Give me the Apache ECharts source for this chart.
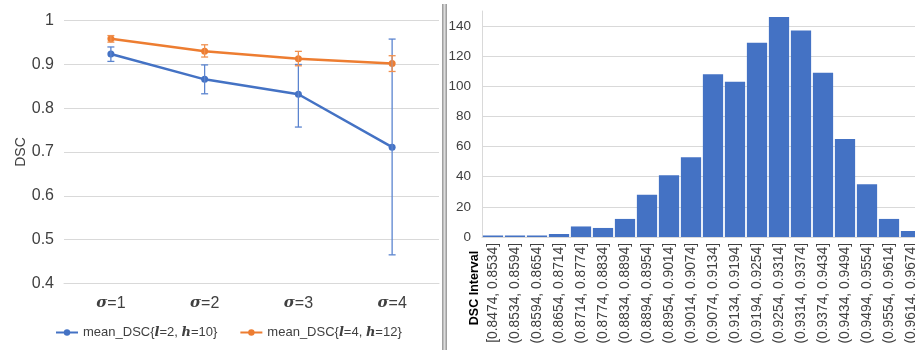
<!DOCTYPE html>
<html><head><meta charset="utf-8">
<script src="https://cdn.jsdelivr.net/npm/echarts@6/dist/echarts.min.js"></script>
<style>html,body{margin:0;padding:0;background:#fff;overflow:hidden;width:915px;height:350px}#c{width:922px;height:350px}</style>
</head><body><div id="c"></div>
<script>
// Left chart data
const sigmaCats = ['1', '2', '3', '4'];
const meanA = [0.924, 0.866, 0.832, 0.711];      // l=2, h=10
const errLowA = [0.907, 0.833, 0.757, 0.465];
const errHighA = [0.940, 0.899, 0.900, 0.958];
const meanB = [0.959, 0.930, 0.913, 0.902];      // l=4, h=12
const errLowB = [0.951, 0.917, 0.897, 0.884];
const errHighB = [0.966, 0.945, 0.930, 0.920];
const leftTicks = [0.4, 0.5, 0.6, 0.7, 0.8, 0.9, 1];

// Right chart data
const intervals = ['[0.8474, 0.8534]', '(0.8534, 0.8594]', '(0.8594, 0.8654]', '(0.8654, 0.8714]',
  '(0.8714, 0.8774]', '(0.8774, 0.8834]', '(0.8834, 0.8894]', '(0.8894, 0.8954]', '(0.8954, 0.9014]',
  '(0.9014, 0.9074]', '(0.9074, 0.9134]', '(0.9134, 0.9194]', '(0.9194, 0.9254]', '(0.9254, 0.9314]',
  '(0.9314, 0.9374]', '(0.9374, 0.9434]', '(0.9434, 0.9494]', '(0.9494, 0.9554]', '(0.9554, 0.9614]',
  '(0.9614, 0.9674]'];
const counts = [1, 1, 1, 2, 7, 6, 12, 28, 41, 53, 108, 103, 129, 146, 137, 109, 65, 35, 12, 4];

const BLUE = '#4472C4', ORANGE = '#ED7D31', GRID = '#d9d9d9', TXT = '#404040';
const FONT = 'Liberation Sans';
const MATH = 'DejaVu Serif';

function errData(lo, hi) { return lo.map((v, i) => [i, v, hi[i]]); }
function errRender(color) {
  return function (params, api) {
    const x = api.value(0);
    const p1 = api.coord([x, api.value(1)]);
    const p2 = api.coord([x, api.value(2)]);
    const w = 3.5;
    const st = { stroke: color, lineWidth: 1.3 };
    return { type: 'group', children: [
      { type: 'line', shape: { x1: p1[0], y1: p1[1], x2: p2[0], y2: p2[1] }, style: st },
      { type: 'line', shape: { x1: p1[0] - w, y1: p1[1], x2: p1[0] + w, y2: p1[1] }, style: st },
      { type: 'line', shape: { x1: p2[0] - w, y1: p2[1], x2: p2[0] + w, y2: p2[1] }, style: st }
    ]};
  };
}

const chart = echarts.init(document.getElementById('c'), null, { renderer: 'canvas' });
chart.setOption({
  animation: false,
  textStyle: { fontFamily: FONT },
  grid: [
    { left: 64, right: 483, top: 20.7, bottom: 66.7 },
    { left: 482, right: 0, top: 11, bottom: 113 }
  ],
  legend: {
    left: 55, top: 326, padding: 0, itemWidth: 22, itemHeight: 8, itemGap: 22,
    textStyle: { fontFamily: FONT, fontSize: 13, color: TXT, rich: {
      m: { fontFamily: MATH, fontWeight: 'bold', fontStyle: 'italic', fontSize: 13, color: TXT }
    }},
    data: ['A', 'B'],
    formatter: function (n) {
      return n === 'A' ? 'mean_DSC{{m|l}=2, {m|h}=10}' : 'mean_DSC{{m|l}=4, {m|h}=12}';
    }
  },
  xAxis: [
    { gridIndex: 0, type: 'category', data: sigmaCats, boundaryGap: true,
      axisLine: { lineStyle: { color: GRID } }, axisTick: { show: false },
      axisLabel: { margin: 12, fontSize: 16, color: TXT, fontFamily: FONT,
        formatter: v => '{s|σ}=' + v,
        rich: { s: { fontFamily: MATH, fontWeight: 'bold', fontStyle: 'italic', fontSize: 15, color: TXT } } } },
    { gridIndex: 1, type: 'category', data: intervals,
      axisLine: { lineStyle: { color: GRID } }, axisTick: { show: false },
      axisLabel: { rotate: 90, interval: 0, margin: 6, fontSize: 13.8, color: TXT, fontFamily: FONT } }
  ],
  yAxis: [
    { gridIndex: 0, type: 'value', min: 0.4, max: 1, interval: 0.1,
      name: 'DSC', nameLocation: 'middle', nameGap: 36, nameRotate: 90,
      nameTextStyle: { fontSize: 14, color: TXT, fontFamily: FONT },
      axisLine: { show: false }, axisTick: { show: false },
      axisLabel: { margin: 10, fontSize: 16, color: TXT, fontFamily: FONT,
        formatter: v => String(Math.round(v * 10) / 10) },
      splitLine: { lineStyle: { color: GRID, width: 1 } } },
    { gridIndex: 1, type: 'value', min: 0, max: 150, interval: 20,
      axisLine: { show: true, lineStyle: { color: GRID } }, axisTick: { show: false },
      axisLabel: { margin: 11, fontSize: 13.5, color: TXT, fontFamily: FONT, showMaxLabel: false },
      splitLine: { showMaxLine: false, lineStyle: { color: GRID, width: 1 } } }
  ],
  series: [
    { name: 'A', type: 'line', xAxisIndex: 0, yAxisIndex: 0, data: meanA, color: BLUE,
      symbol: 'circle', symbolSize: 7, lineStyle: { width: 2.5, color: BLUE }, itemStyle: { color: BLUE }, z: 3 },
    { name: 'B', type: 'line', xAxisIndex: 0, yAxisIndex: 0, data: meanB, color: ORANGE,
      symbol: 'circle', symbolSize: 7, lineStyle: { width: 2.5, color: ORANGE }, itemStyle: { color: ORANGE }, z: 3 },
    { type: 'custom', xAxisIndex: 0, yAxisIndex: 0, data: errData(errLowA, errHighA),
      renderItem: errRender('#5b84cf'), z: 4, encode: { x: 0, y: [1, 2] } },
    { type: 'custom', xAxisIndex: 0, yAxisIndex: 0, data: errData(errLowB, errHighB),
      renderItem: errRender('#f0904f'), z: 4, encode: { x: 0, y: [1, 2] } },
    { type: 'bar', xAxisIndex: 1, yAxisIndex: 1, data: counts, barCategoryGap: '8%',
      itemStyle: { color: BLUE } }
  ],
  graphic: [
    { type: 'rect', shape: { x: 442, y: 4, width: 5, height: 350 }, style: { fill: '#a0a0a0' }, z: 10 },
    { type: 'rect', shape: { x: 443.5, y: 4, width: 2, height: 350 }, style: { fill: '#dcdcdc' }, z: 11 },
    { type: 'text', x: 475, y: 288, rotation: Math.PI / 2, z: 10,
      style: { text: 'DSC Interval', font: 'bold 12.5px "Liberation Sans"', fill: '#000',
        textAlign: 'center', textVerticalAlign: 'middle' } }
  ]
});
</script></body></html>
